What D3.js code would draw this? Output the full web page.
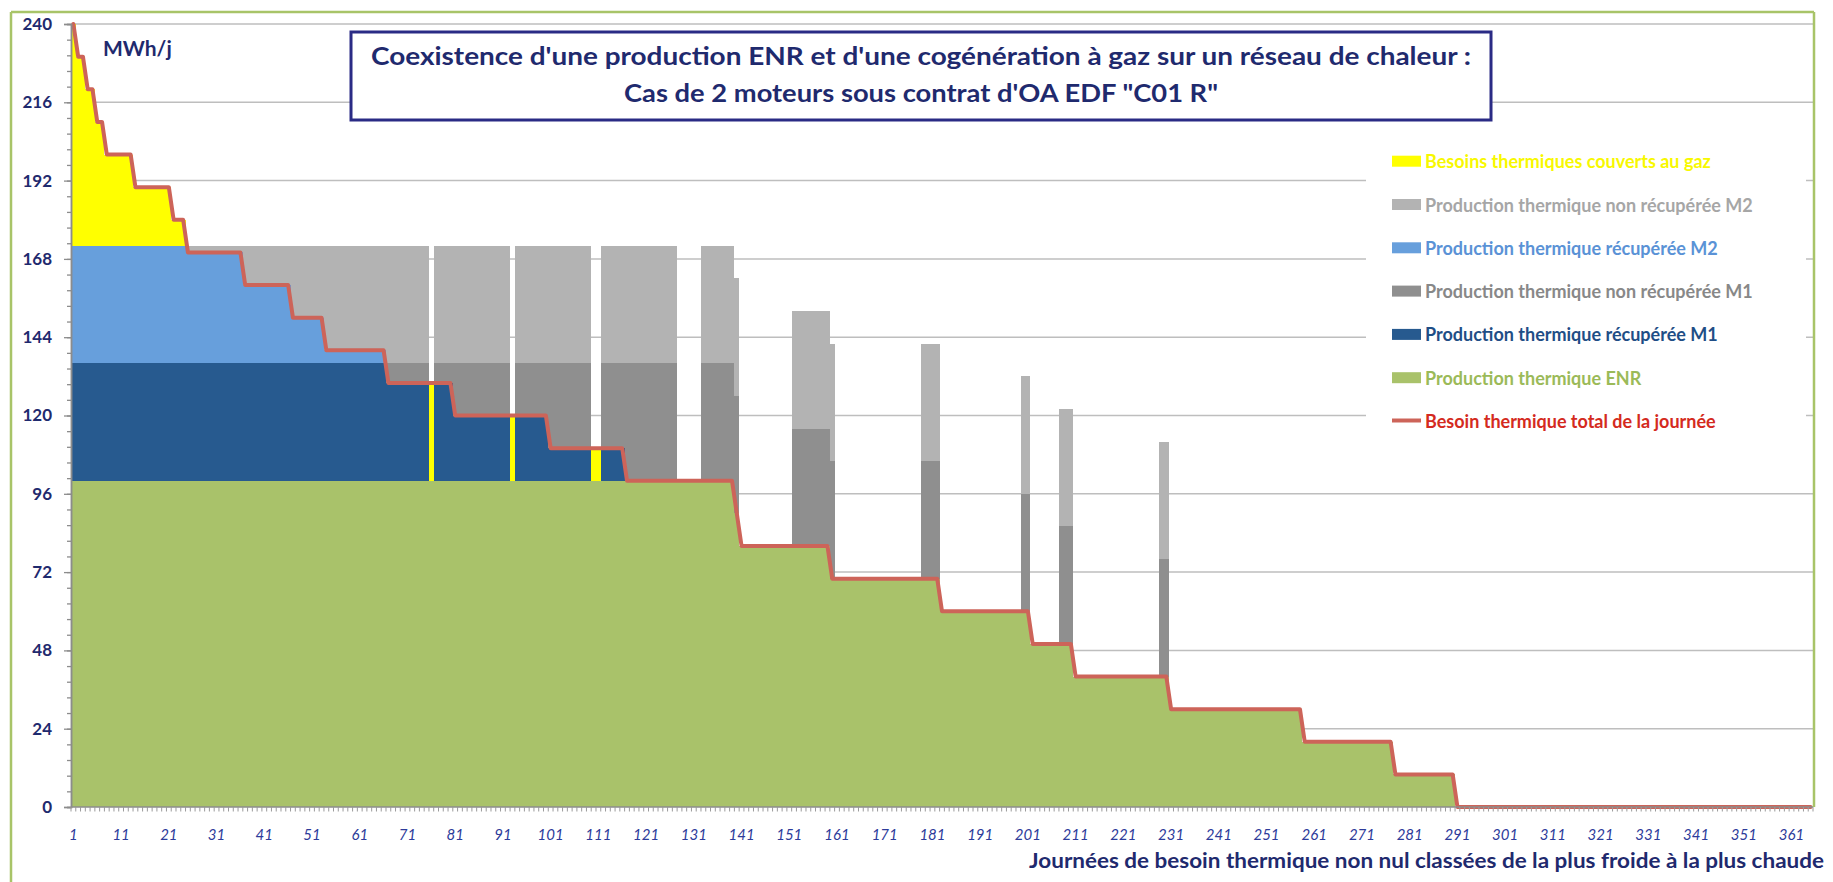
<!DOCTYPE html>
<html>
<head>
<meta charset="utf-8">
<script src="https://cdn.jsdelivr.net/npm/d3@7"></script>
<style>
  html, body { margin: 0; padding: 0; background: #ffffff; }
  svg { display: block; }
  text { font-family: Lato, "Open Sans", "DejaVu Sans", sans-serif; }
</style>
</head>
<body>
<svg id="chart" width="1833" height="882"></svg>
<script>
// ---------------- DATA ----------------
// Day categories (365 days, coldest to warmest)
const days = d3.range(1, 366);
const xTickLabels = [1, 11, 21, 31, 41, 51, 61, 71, 81, 91, 101, 111, 121, 131, 141, 151, 161, 171, 181, 191, 201, 211, 221, 231, 241, 251, 261, 271, 281, 291, 301, 311, 321, 331, 341, 351, 361];
const yTickLabels = [0, 24, 48, 72, 96, 120, 144, 168, 192, 216, 240];

// Each series as run-length segments: [firstDay, lastDay, MWh/j]
const needSteps = [[1,1,240],[2,3,230],[4,5,220],[6,7,210],[8,13,200],[14,21,190],[22,24,180],[25,36,170],[37,46,160],[47,53,150],[54,66,140],[67,80,130],[81,100,120],[101,116,110],[117,139,100],[140,140,90],[141,159,80],[160,182,70],[183,201,60],[202,210,50],[211,230,40],[231,258,30],[259,277,20],[278,290,10],[291,365,0]];
const enrSteps = [[1,139,100],[140,140,90],[141,159,80],[160,182,70],[183,201,60],[202,210,50],[211,230,40],[231,258,30],[259,277,20],[278,290,10]];
const m1RecSteps = [[1,66,36],[67,75,30],[77,80,30],[81,92,20],[94,100,20],[101,109,10],[112,116,10]];
const m1NonSteps = [[67,75,6],[77,80,6],[81,92,16],[94,100,16],[101,109,26],[112,116,26],[117,127,36],[133,140,36],[152,160,36],[179,182,36],[200,201,36],[208,210,36],[229,230,36]];
const m2RecSteps = [[1,24,36],[25,36,34],[37,46,24],[47,53,14],[54,66,4]];
const m2NonSteps = [[25,36,2],[37,46,12],[47,53,22],[54,66,32],[67,75,36],[77,92,36],[94,109,36],[112,127,36],[133,140,36],[152,160,36],[179,182,36],[200,201,36],[208,210,36],[229,230,36]];
const gasSteps = [[1,1,68],[2,3,58],[4,5,48],[6,7,38],[8,13,28],[14,21,18],[22,24,8],[76,76,30],[93,93,20],[110,111,10]];

const titleLines = ["Coexistence d'une production ENR et d'une cogénération à gaz sur un réseau de chaleur :", "Cas de 2 moteurs sous contrat d'OA EDF \"C01 R\""];
const unitLabel = "MWh/j";
const xTitle = "Journées de besoin thermique non nul classées de la plus froide à la plus chaude";

// ---------------- helpers ----------------
function expand(steps) {
  const byDay = new Map(days.map(d => [d, 0]));
  steps.forEach(([s, e, v]) => { for (let d = s; d <= e; d++) byDay.set(d, v); });
  return days.map(d => byDay.get(d));
}
const need = expand(needSteps);
const layerKeys = ["enr", "m1Rec", "m1Non", "m2Rec", "m2Non", "gas"];
const layerValues = {
  enr: expand(enrSteps), m1Rec: expand(m1RecSteps), m1Non: expand(m1NonSteps),
  m2Rec: expand(m2RecSteps), m2Non: expand(m2NonSteps), gas: expand(gasSteps)
};
const rows = days.map((d, i) => {
  const r = { day: d };
  layerKeys.forEach(k => r[k] = layerValues[k][i]);
  return r;
});

const style = {
  enr:   { fill: "#A9C26A", text: "#9BBA58", label: "Production thermique ENR" },
  m1Rec: { fill: "#275A8F", text: "#1F4E86", label: "Production thermique récupérée M1" },
  m1Non: { fill: "#8F8F8F", text: "#888888", label: "Production thermique non récupérée M1" },
  m2Rec: { fill: "#679FDC", text: "#5A92D6", label: "Production thermique récupérée M2" },
  m2Non: { fill: "#B3B3B3", text: "#A6A6A6", label: "Production thermique non récupérée M2" },
  gas:   { fill: "#FFFF00", text: "#F8F800", label: "Besoins thermiques couverts au gaz" },
  need:  { fill: "#CD6459", text: "#D42A20", label: "Besoin thermique total de la journée" }
};

// ---------------- layout ----------------
const svg = d3.select("#chart");
const plot = { left: 71, right: 1813, top: 24, bottom: 807 };
const x = d3.scaleBand().domain(days).range([plot.left, plot.right]).padding(0);
const y = d3.scaleLinear().domain([0, 240]).range([plot.bottom, plot.top]);
const bw = x.bandwidth();
const navy = "#1F2A6E";

// background
svg.append("rect").attr("width", 1833).attr("height", 882).attr("fill", "#fff");

// gridlines
svg.append("g").selectAll("line").data(yTickLabels.filter(v => v > 0)).join("line")
  .attr("x1", plot.left).attr("x2", plot.right)
  .attr("y1", d => y(d)).attr("y2", d => y(d))
  .attr("stroke", "#BEBEBE").attr("stroke-width", 1.5);

// stacked columns
const stacked = d3.stack().keys(layerKeys)(rows);
const gBars = svg.append("g").attr("shape-rendering", "crispEdges");
stacked.forEach(layer => {
  gBars.append("g").attr("fill", style[layer.key].fill)
    .selectAll("rect").data(layer.filter(s => s[1] - s[0] > 0)).join("rect")
    .attr("x", s => x(s.data.day))
    .attr("width", bw + 0.01)
    .attr("y", s => y(s[1]))
    .attr("height", s => y(s[0]) - y(s[1]));
});

// total need line
const needPts = days.map((d, i) => ({ day: d, v: need[i] }));
svg.append("path").datum(needPts)
  .attr("fill", "none").attr("stroke", style.need.fill).attr("stroke-width", 4)
  .attr("stroke-linejoin", "round").attr("stroke-linecap", "round")
  .attr("d", d3.line().x(p => x(p.day) + bw / 2).y(p => y(p.v)));

// Y axis: minor + major ticks
const yMinor = d3.range(0, 240.001, 4.8);
const gyMinor = svg.append("g").attr("transform", `translate(${plot.left},0)`)
  .call(d3.axisLeft(y).tickValues(yMinor).tickSize(4).tickFormat(""));
const gy = svg.append("g").attr("transform", `translate(${plot.left},0)`)
  .call(d3.axisLeft(y).tickValues(yTickLabels).tickSize(7).tickPadding(12));
[gyMinor, gy].forEach(g => {
  g.select(".domain").attr("stroke", "#8C8C8C").attr("stroke-width", 1.5);
  g.selectAll(".tick line").attr("stroke", "#8C8C8C").attr("stroke-width", 1.3);
});
gy.selectAll(".tick text").attr("fill", navy).attr("font-size", 17).attr("font-weight", "bold")
  .attr("font-family", "Lato, 'Open Sans', sans-serif");

// X axis
const gx = svg.append("g");
gx.append("line").attr("x1", plot.left).attr("x2", plot.right)
  .attr("y1", plot.bottom).attr("y2", plot.bottom)
  .attr("stroke", "#8C8C8C").attr("stroke-width", 1.5);
gx.append("g").selectAll("line").data(days).join("line")
  .attr("x1", d => x(d)).attr("x2", d => x(d))
  .attr("y1", plot.bottom).attr("y2", plot.bottom + 4.5)
  .attr("stroke", "#9A9A9A").attr("stroke-width", 1);
gx.append("line").attr("x1", plot.right).attr("x2", plot.right)
  .attr("y1", plot.bottom).attr("y2", plot.bottom + 4.5).attr("stroke", "#9A9A9A");
gx.append("g").selectAll("text").data(xTickLabels).join("text")
  .attr("x", d => x(d) + bw / 2).attr("y", 839.5)
  .attr("text-anchor", "middle").attr("font-size", 15).attr("font-style", "italic")
  .attr("fill", "#2D3B9A").text(d => d);

// X title
svg.append("text").attr("x", 1824).attr("y", 868).attr("text-anchor", "end")
  .attr("font-size", 21).attr("font-weight", "bold").attr("fill", navy)
  .attr("textLength", 795).attr("lengthAdjust", "spacingAndGlyphs")
  .text(xTitle);

// unit label
svg.append("text").attr("x", 103).attr("y", 56)
  .attr("font-size", 21).attr("font-weight", "bold").attr("fill", navy).text(unitLabel);

// title box
svg.append("rect").attr("x", 351).attr("y", 32).attr("width", 1140).attr("height", 88)
  .attr("fill", "#fff").attr("stroke", "#2A2B85").attr("stroke-width", 3);
const titleLen = [1100, 594];
const titleBase = [65, 102];
titleLines.forEach((t, i) => {
  svg.append("text").attr("x", 921).attr("y", titleBase[i]).attr("text-anchor", "middle")
    .attr("font-size", 24).attr("font-weight", "bold").attr("fill", navy)
    .attr("textLength", titleLen[i]).attr("lengthAdjust", "spacingAndGlyphs")
    .text(t);
});

// legend
svg.append("rect").attr("x", 1366).attr("y", 136).attr("width", 440).attr("height", 308).attr("fill", "#fff");
const legendKeys = ["gas", "m2Non", "m2Rec", "m1Non", "m1Rec", "enr", "need"];
const gl = svg.append("g");
legendKeys.forEach((k, i) => {
  const cy = 161.7 + i * 43.3;
  if (k === "need") {
    gl.append("line").attr("x1", 1392).attr("x2", 1421).attr("y1", cy - 1).attr("y2", cy - 1)
      .attr("stroke", style[k].fill).attr("stroke-width", 4);
  } else {
    gl.append("rect").attr("x", 1392).attr("y", cy - 6).attr("width", 29).attr("height", 11)
      .attr("fill", style[k].fill);
  }
  gl.append("text").attr("x", 1425).attr("y", cy + 6.5)
    .attr("font-size", 18).attr("font-weight", "bold").attr("fill", style[k].text)
    .text(style[k].label);
});

// outer green frame (top, left, right down to the axis)
const frame = svg.append("g").attr("stroke", "#A8C468").attr("stroke-width", 2.5).attr("fill", "none");
frame.append("line").attr("x1", 11).attr("x2", 1814).attr("y1", 12).attr("y2", 12);
frame.append("line").attr("x1", 11).attr("x2", 11).attr("y1", 12).attr("y2", 882);
frame.append("line").attr("x1", 1814).attr("x2", 1814).attr("y1", 12).attr("y2", plot.bottom);
</script>
</body>
</html>
